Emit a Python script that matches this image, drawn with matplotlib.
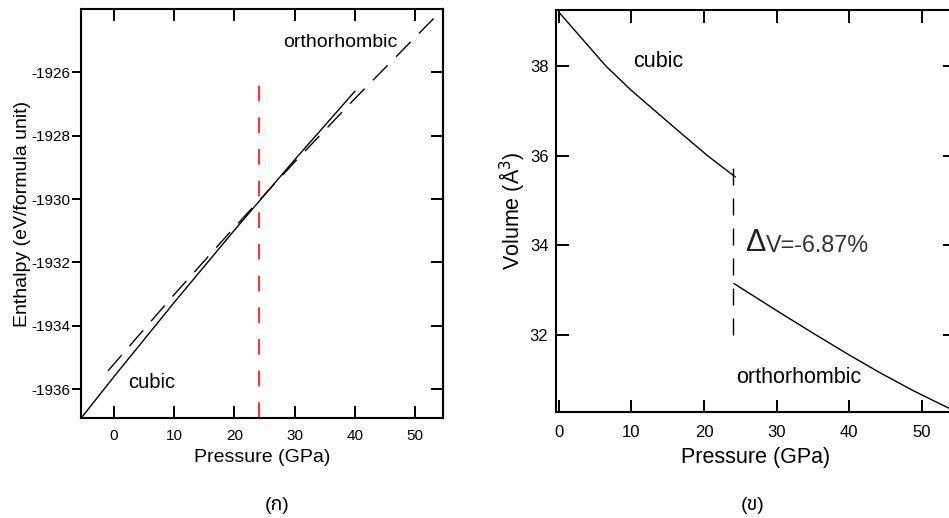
import numpy as np
import matplotlib
matplotlib.use('Agg')
import matplotlib.pyplot as plt

plt.rcParams['font.family'] = ['Liberation Sans', 'Noto Sans Thai', 'DejaVu Sans']
plt.rcParams['axes.unicode_minus'] = False
plt.rcParams['lines.scale_dashes'] = False

# enthalpy vs pressure
p_transition = 24.0
cubic_p = [-5.5, 0, 10, 20, 30, 40]
cubic_h = [-1936.92, -1935.60, -1933.26, -1930.98, -1928.76, -1926.60]
ortho_p = [-1, 10, 20, 30, 40, 53.3]
ortho_h = [-1935.42, -1933.01, -1930.89, -1928.83, -1926.83, -1924.26]
h_ticks = [-1936, -1934, -1932, -1930, -1928, -1926]
h_red_top = -1926.4

# volume vs pressure
vc_p = [0, 3.35, 6.48, 9.9, 13.4, 17.0, 20.5, 24.3]
vc_v = [39.20, 38.58, 38.0, 37.47, 36.98, 36.48, 36.0, 35.53]
vo_p = [24.14, 30.48, 35.08, 40.0, 44.28, 48.87, 53.79]
vo_v = [33.15, 32.50, 32.04, 31.56, 31.16, 30.76, 30.37]
v_ticks = [32, 34, 36, 38]
v_jump = [32, 36]
p_ticks = [0, 10, 20, 30, 40, 50]

W, H = 949, 518
fig = plt.figure(figsize=(W / 100, H / 100), dpi=100)

def frac(l, t, r, b):
    return [l / W, 1 - b / H, (r - l) / W, (b - t) / H]

# ---- left panel
ax1 = fig.add_axes(frac(81, 9, 443.3, 418.3))
ax1.plot(cubic_p, cubic_h, color='black', lw=1.0)
ax1.plot(ortho_p, ortho_h, color='black', lw=1.0, dashes=(15, 8.6))
ax1.plot([p_transition, p_transition], [-1936.92, h_red_top], color='#ff3333', lw=1.5,
         dashes=(11.3, 11.5))
ax1.set_xlim(-5.5, 54.7)
ax1.set_ylim(-1936.92, -1924.0)
ax1.set_xticks(p_ticks)
ax1.set_yticks(h_ticks)
ax1.tick_params(axis='x', direction='in', top=True, length=8.6, width=1.4, pad=8, labelsize=11)
ax1.tick_params(axis='y', direction='out', length=6.5, width=1.4, pad=1, labelsize=11)
sec = ax1.secondary_yaxis('right')
sec.set_yticks(h_ticks)
sec.tick_params(direction='in', length=8.6, width=1.4, labelright=False)
sec.spines['right'].set_linewidth(1.5)
for s in ax1.spines.values():
    s.set_linewidth(1.5)
ax1.set_xlabel('Pressure (GPa)', fontsize=14, labelpad=4)
ax1.set_ylabel('Enthalpy (eV/formula unit)', fontsize=14)
ax1.yaxis.set_label_coords(-0.137, 0.5)
ax1.text(28.1, -1925.06, 'orthorhombic', fontsize=14, va='center')
ax1.text(2.3, -1935.8, 'cubic', fontsize=14.5, va='center')
fig.text(276.7 / W, 1 - 505 / H, '(ก)', fontsize=14, ha='center', va='center')

# ---- right panel
ax2 = fig.add_axes(frac(556, 10, 955, 412.3))
ax2.plot(vc_p, vc_v, color='black', lw=1.0)
ax2.plot(vo_p, vo_v, color='black', lw=1.0)
ax2.plot([p_transition, p_transition], v_jump, color='black', lw=1.0, dashes=(12.2, 9.4))
ax2.set_xlim(-0.4, 54.6)
ax2.set_ylim(30.28, 39.25)
ax2.set_xticks(p_ticks)
ax2.set_yticks(v_ticks)
ax2.tick_params(axis='both', direction='in', top=True, right=True, length=9, width=1.4,
                labelsize=12)
ax2.tick_params(axis='x', pad=9.5)
ax2.tick_params(axis='y', pad=5.5)
for s in ax2.spines.values():
    s.set_linewidth(1.5)
ax2.set_xlabel('Pressure (GPa)', fontsize=15.5, labelpad=5)
ax2.set_ylabel('Volume (Å$^3$)', fontsize=15.5, labelpad=2)
ax2.text(10.3, 38.11, 'cubic', fontsize=15.5, va='center')
ax2.text(24.4, 31.06, 'orthorhombic', fontsize=15.5, va='center')
ax2.text(25.7, 34.05, 'Δ', fontsize=22, va='center', color='#222222')
ax2.text(28.6, 34.0, 'V=-6.87%', fontsize=16.8, va='center', color='#333333')
fig.text(753 / W, 1 - 505 / H, '(ข)', fontsize=14, ha='center', va='center')

fig.savefig('out.png', dpi=100)
